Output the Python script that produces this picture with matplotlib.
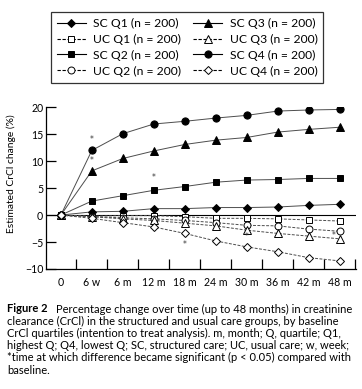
import matplotlib
matplotlib.use('Agg')
import matplotlib.pyplot as plt
import numpy as np
from matplotlib.lines import Line2D

plt.rcParams['font.family'] = ['Lato', 'DejaVu Sans']
plt.rcParams['axes.linewidth'] = 0.9

# time points
time_labels = ['0', '6 w', '6 m', '12 m', '18 m', '24 m', '30 m', '36 m', '42 m', '48 m']

# estimated CrCl change (%) per group
sc_q1 = [0, 0.6, 0.7, 1.2, 1.2, 1.4, 1.4, 1.5, 1.8, 2.0]
uc_q1 = [0, -0.2, -0.1, -0.1, -0.3, -0.6, -0.6, -0.7, -0.9, -1.1]
sc_q2 = [0, 2.6, 3.6, 4.6, 5.3, 6.1, 6.5, 6.6, 6.8, 6.8]
uc_q2 = [0, -0.3, -0.5, -0.7, -1.0, -1.4, -1.9, -2.0, -2.6, -3.0]
sc_q3 = [0, 8.2, 10.5, 11.9, 13.1, 13.9, 14.4, 15.4, 15.9, 16.3]
uc_q3 = [0, -0.3, -0.7, -1.0, -1.5, -2.0, -2.8, -3.4, -3.9, -4.4]
sc_q4 = [0, 12.0, 15.1, 16.9, 17.4, 18.0, 18.5, 19.3, 19.5, 19.6]
uc_q4 = [0, -0.6, -1.4, -2.2, -3.4, -4.8, -5.9, -6.8, -7.9, -8.5]

# significance stars (time index, value)
star_x = [1, 1, 3, 4, 6, 8.82]
star_y = [14.1, 10.1, 7.0, -5.4, -3.9, -3.7]

caption_lines = [
    'Percentage change over time (up to 48 months) in creatinine',
    'clearance (CrCl) in the structured and usual care groups, by baseline',
    'CrCl quartiles (intention to treat analysis). m, month; Q, quartile; Q1,',
    'highest Q; Q4, lowest Q; SC, structured care; UC, usual care; w, week;',
    '*time at which difference became significant (p < 0.05) compared with',
    'baseline.',
]

fig = plt.figure(figsize=(3.62, 3.89), dpi=100)
ax = fig.add_axes([0.127, 0.3085, 0.856, 0.4157])

x = np.arange(len(time_labels))
line_c = '0.3'

series = [
    ('SC Q1 (n = 200)', sc_q1, 'D', 'black', '-', 4.2),
    ('UC Q1 (n = 200)', uc_q1, 's', 'white', '--', 4.6),
    ('SC Q2 (n = 200)', sc_q2, 's', 'black', '-', 4.6),
    ('UC Q2 (n = 200)', uc_q2, 'o', 'white', '--', 5.0),
    ('SC Q3 (n = 200)', sc_q3, '^', 'black', '-', 5.2),
    ('UC Q3 (n = 200)', uc_q3, '^', 'white', '--', 5.2),
    ('SC Q4 (n = 200)', sc_q4, 'o', 'black', '-', 5.2),
    ('UC Q4 (n = 200)', uc_q4, 'D', 'white', '--', 4.4),
]

ax.axhline(0, color='black', lw=0.8, zorder=1)

handles = []
for label, vals, mk, fc, ls, ms in series:
    dsh = (3, 1.5) if ls == '--' else (None, None)
    ax.plot(x, vals, color=line_c, lw=0.7, ls=ls, dashes=dsh, zorder=2)
    ax.plot(x, vals, ls='none', marker=mk, ms=ms, mfc=fc, mec='black', mew=0.7, zorder=3)
    handles.append(Line2D([], [], color='black', lw=0.8, ls=ls, marker=mk, ms=ms,
                          mfc=fc, mec='black', mew=0.7, dashes=dsh))

for sx, sy in zip(star_x, star_y):
    ax.text(sx, sy, '*', ha='center', va='center', fontsize=5.5, color='0.2',
            family='DejaVu Sans')

ax.set_xlim(-0.48, 9.52)
ax.set_ylim(-10, 20)
ax.set_yticks([-10, -5, 0, 5, 10, 15, 20])
ax.set_yticklabels(['\u221210', '\u22125', '0', '5', '10', '15', '20'])
ax.set_xticks(x)
ax.set_xticklabels(time_labels)
ax.set_xticks(np.arange(0.5, 10, 1), minor=True)
ax.tick_params(axis='x', which='major', length=0, labelsize=7.6, pad=6)
ax.tick_params(axis='x', which='minor', direction='in', length=7, width=0.9)
ax.tick_params(axis='y', direction='in', length=7, width=0.9, labelsize=7.6, pad=2,
               colors='black')
ax.spines['top'].set_visible(False)
ax.spines['right'].set_visible(False)
ax.set_ylabel('Estimated CrCl change (%)', fontsize=7.4)
ax.yaxis.set_label_coords(-0.098, 0.59)

fig.legend(handles, [s[0] for s in series], ncol=2, loc='upper left',
           bbox_to_anchor=(0.124, 0.985), bbox_transform=fig.transFigure,
           fontsize=8.7, frameon=True, fancybox=False, edgecolor='black',
           handlelength=2.4, handletextpad=0.6, columnspacing=1.0,
           labelspacing=0.4, borderpad=0.5)
leg = fig.legends[0]
leg.get_frame().set_linewidth(0.9)

# caption, scaled so the longest line spans the same width as the reference
renderer = fig.canvas.get_renderer()
cap_x = 7 / 362
gap = 8
probe = fig.text(0, 0, caption_lines[2], fontsize=7.0)
w_body = probe.get_window_extent(renderer).width
probe.remove()
probe1 = fig.text(0, 0, caption_lines[0], fontsize=7.0)
probe2 = fig.text(0, 0, 'Figure 2', fontsize=7.0, fontweight='bold')
w_first = probe1.get_window_extent(renderer).width + probe2.get_window_extent(renderer).width
probe1.remove()
probe2.remove()
cap_fs = 7.0 * min(345 / w_body, (345 - gap) / w_first)
y0 = 1 - 309 / 389
dy = 12.2 / 389
fig_t = fig.text(cap_x, y0, 'Figure 2', fontsize=cap_fs, fontweight='bold', va='center')
bb = fig_t.get_window_extent(renderer)
fig.text((bb.x1 + gap) / 362, y0, caption_lines[0], fontsize=cap_fs, va='center')
for i, line in enumerate(caption_lines[1:], start=1):
    fig.text(cap_x, y0 - i * dy, line, fontsize=cap_fs, va='center')

fig.savefig('out.png', dpi=100)
